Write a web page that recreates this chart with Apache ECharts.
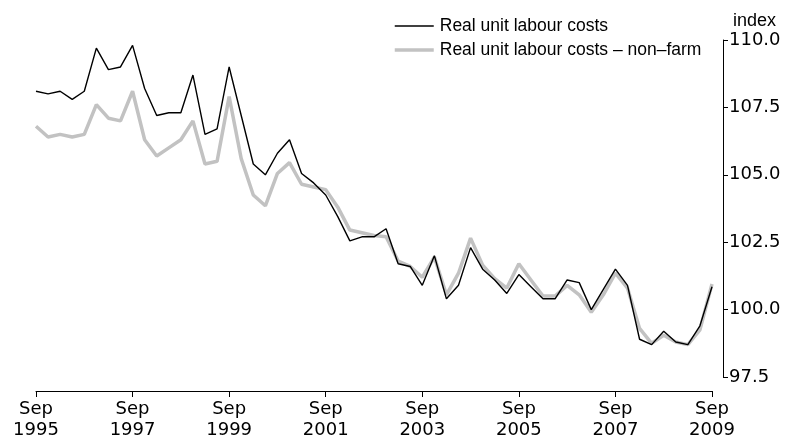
<!DOCTYPE html>
<html>
<head>
<meta charset="utf-8">
<script src="https://cdn.jsdelivr.net/npm/echarts@6/dist/echarts.min.js"></script>
<style>html,body{margin:0;padding:0;background:#fff}#c{width:794px;height:447px}</style>
</head>
<body>
<div id="c"></div>
<script>
// Quarterly, Sep 1995 – Sep 2009
const startYear = 1995, endYear = 2009;
const quarterMonths = ['Mar', 'Jun', 'Sep', 'Dec'];
const seriesNames = ['Real unit labour costs', 'Real unit labour costs \u2013 non\u2013farm'];
const yTicks = { min: 97.5, max: 110, interval: 2.5 };
const realULC = [108.1,108.0,108.1,107.8,108.1,109.7,108.9,109.0,109.8,108.2,
  107.2,107.3,107.3,108.7,106.5,106.7,109.0,107.2,105.4,105.0,
  105.8,106.3,105.05,104.7,104.25,103.45,102.55,102.7,102.7,103.0,
  101.7,101.6,100.9,102.0,100.4,100.9,102.3,101.5,101.1,100.6,
  101.3,100.85,100.4,100.4,101.1,101.0,100.0,100.75,101.5,100.9,
  98.9,98.7,99.2,98.8,98.7,99.4,100.85];
const realULCNonFarm = [106.8,106.4,106.5,106.4,106.5,107.6,107.1,107.0,108.1,106.3,
  105.7,106.0,106.3,107.0,105.4,105.5,107.9,105.6,104.25,103.85,
  105.05,105.45,104.65,104.55,104.45,103.8,102.95,102.85,102.75,102.7,
  101.8,101.6,101.2,101.95,100.55,101.35,102.65,101.65,101.15,100.8,
  101.7,101.1,100.5,100.5,100.9,100.55,99.9,100.55,101.35,100.8,
  99.3,98.75,99.05,98.8,98.7,99.25,100.95];

const categories = [];
for (let y = startYear; y <= endYear; y++) {
  for (const m of quarterMonths) {
    if (y === startYear && (m === 'Mar' || m === 'Jun')) continue;
    if (y === endYear && m === 'Dec') continue;
    categories.push(m + ' ' + y);
  }
}

const FONT = "'Liberation Sans', Arial, sans-serif";
const AXFONT = "'DejaVu Sans', sans-serif";
const chart = echarts.init(document.getElementById('c'), null, { renderer: 'canvas' });
chart.setOption({
  animation: false,
  backgroundColor: '#fff',
  grid: { left: 36, right: 82, top: 40, bottom: 70, containLabel: false },
  legend: {
    orient: 'vertical', left: 393, top: 17, padding: 0,
    itemWidth: 39, itemHeight: 14, itemGap: 6,
    itemStyle: { opacity: 0 },
    lineStyle: { width: 'inherit' },
    textStyle: { fontFamily: FONT, fontSize: 17.5, color: '#000', padding: [0, 0, 0, 1] },
    data: seriesNames
  },
  xAxis: {
    type: 'category', data: categories, boundaryGap: false, offset: 14,
    axisLine: { lineStyle: { color: '#000', width: 1 } },
    axisTick: { interval: 7, length: 6, lineStyle: { color: '#000' } },
    axisLabel: {
      interval: 7, margin: 8, fontFamily: AXFONT, fontSize: 18, color: '#000', lineHeight: 21,
      formatter: v => v.replace(' ', '\n')
    },
    splitLine: { show: false }
  },
  yAxis: {
    type: 'value', position: 'right', offset: 11,
    min: yTicks.min, max: yTicks.max, interval: yTicks.interval,
    name: 'index', nameLocation: 'end', nameGap: 10,
    nameTextStyle: { fontFamily: FONT, fontSize: 18, color: '#000', align: 'left', padding: [0, 0, 0, 10] },
    axisLine: { show: true, lineStyle: { color: '#000', width: 1 } },
    axisTick: { show: true, inside: false, length: 5, lineStyle: { color: '#000' } },
    axisLabel: { margin: 6, fontFamily: AXFONT, fontSize: 18, color: '#000', formatter: v => v.toFixed(1) },
    splitLine: { show: false }
  },
  series: [
    { name: seriesNames[0], type: 'line', data: realULC, symbol: 'none', z: 3,
      lineStyle: { color: '#000', width: 1.4 }, itemStyle: { color: '#000' } },
    { name: seriesNames[1], type: 'line', data: realULCNonFarm, symbol: 'none', z: 2,
      lineStyle: { color: '#c2c2c2', width: 3.5 }, itemStyle: { color: '#c2c2c2' } }
  ]
});
</script>
</body>
</html>
